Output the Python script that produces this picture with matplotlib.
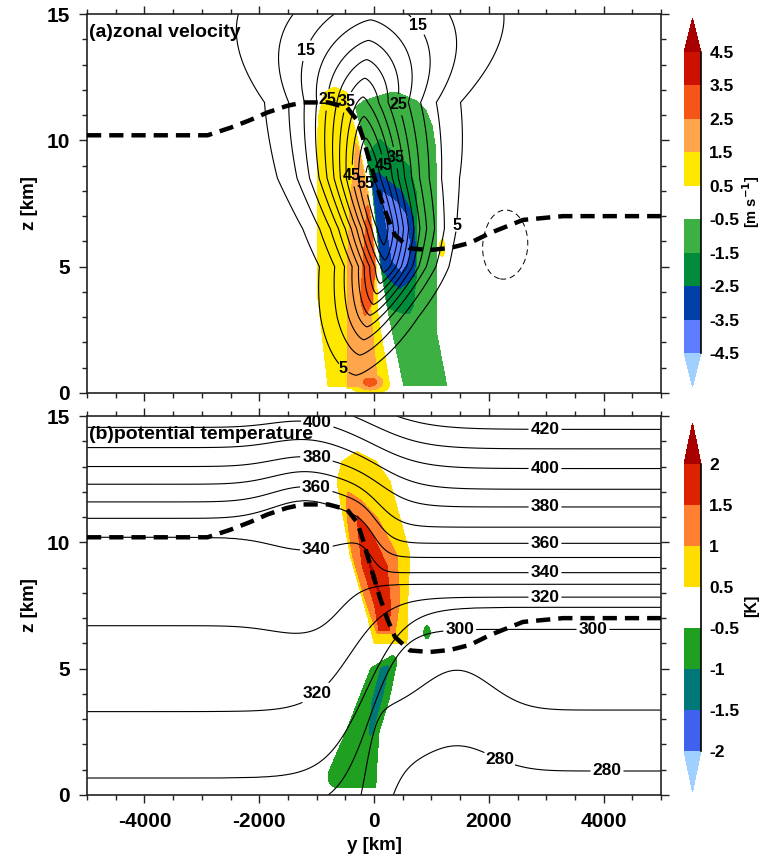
import numpy as np
import matplotlib
matplotlib.use("Agg")
import matplotlib.pyplot as plt
from matplotlib.colors import ListedColormap, BoundaryNorm
from matplotlib.ticker import MultipleLocator, FormatStrFormatter

plt.rcParams["font.family"] = ["Liberation Sans", "DejaVu Sans"]
plt.rcParams["font.weight"] = "bold"
plt.rcParams["axes.labelweight"] = "bold"
plt.rcParams["axes.unicode_minus"] = False

# ---------------- grid ----------------
y_grid = np.linspace(-5000, 5000, 801)
z_grid = np.linspace(0, 15, 601)
Y, Z = np.meshgrid(y_grid, z_grid)

# ---------------- tropopause (dashed) ----------------
trop_y = [-5000, -2900, -2500, -2160, -1860, -1520, -1240, -800, -470, -296, -192, -105,
          105, 226, 366, 627, 975, 1324, 1672, 2021, 2596, 3293, 5000]
trop_z = [10.2, 10.2, 10.5, 10.8, 11.1, 11.36, 11.5, 11.5, 11.3, 10.8, 10.1, 9.4,
          7.8, 7.0, 6.25, 5.72, 5.66, 5.74, 5.94, 6.33, 6.85, 7.0, 7.0]

# ---------------- (a) zonal velocity contours ----------------
u_levels = [5, 10, 15, 20, 25, 30, 35, 40, 45, 50, 55]
u_neg_levels = [-5]
jet_peak = 62.0
jet_offset = 3.0
jet_zmax = 7.0
jet_scale_below = 4.4
jet_scale_above = 7.8
jet_axis_z = [0, 1, 3, 5, 6.5, 8.5, 11.5, 15]
jet_axis_y = [-350, -300, -80, 200, 150, -80, -200, -50]
jet_width_z = [0, 3, 5, 8.5, 11.5, 15]
jet_width = [600, 615, 645, 850, 1000, 1900]
jet_shape = 1.4
u_neg_cell = [-9.0, 2230, 5.95, 600, 1.95]   # amp, y, z, Ly, Hz

u_label_y = [-1115, 680, -767, -453, 418, 331, 140, -383, -70, -557, 1394]
u_label_z = [13.5, 14.4, 11.6, 11.5, 11.4, 9.3, 9.0, 8.6, 8.3, 0.9, 6.65]

# ---------------- (a) shading: u anomaly ----------------
du_levels = [-4.5, -3.5, -2.5, -1.5, -0.5, 0.5, 1.5, 2.5, 3.5, 4.5]
du_colors = ["#5d7dff", "#0040a8", "#008c3a", "#3cb043", "#ffffff",
             "#ffe800", "#ffa64d", "#f55516", "#cc1100"]
du_under, du_over = "#a0d0ff", "#a80000"
# region outlines (z nodes, left edge y, right edge y), threshold, interior value
a_yel = dict(z=[0.25, 3.7, 10.0, 11.0, 11.6, 11.9, 12.12],
             l=[-800, -976, -993, -960, -900, -854, -700],
             r=[1500, 1500, 1500, 1000, -420, -470, -700], thr=0.5, mid=1.0)
a_lor = dict(z=[0.25, 3.0, 5.0, 8.0, 9.0, 9.6, 9.95],
             l=[-470, -470, -470, -400, -340, -330, -320],
             r=[70, -50, -60, -120, -200, -260, -320], thr=1.5, mid=2.0)
a_ord = dict(z=[3.0, 3.6, 5.0, 6.5, 7.5],
             l=[-160, -230, -200, -150, -120],
             r=[-160, -30, 17, 20, -120], thr=2.5, mid=3.0)
a_grn = dict(z=[0.25, 2.5, 8.0, 9.6, 10.6, 11.2, 11.6, 11.95],
             l=[-300, -300, -400, -500, -500, -400, -200, 300],
             r=[1290, 1100, 1100, 1097, 1030, 923, 750, 400], thr=0.5, mid=1.0)
a_dgr = dict(z=[3.1, 3.4, 4.5, 8.0, 9.0, 10.1],
             l=[500, 150, -100, -300, -300, 100],
             r=[640, 700, 750, 750, 627, 100], thr=1.5, mid=2.0)
a_dbl = dict(z=[4.05, 4.6, 5.5, 7.0, 8.0, 8.8],
             l=[450, 200, 0, -100, -100, 52],
             r=[450, 720, 750, 700, 500, 52], thr=2.5, mid=3.0)
a_lbl = dict(z=[4.75, 5.2, 6.0, 7.0, 7.6, 8.0],
             l=[480, 300, 245, 170, 120, 157],
             r=[480, 610, 630, 600, 400, 157], thr=3.5, mid=4.0)
# small cells: y, z, half-width y, half-height z, threshold, interior value
a_pos_cells = [[-70, 0.43, 115, 0.16, 2.5, 3.0]]
a_free_cells = [[1185, 5.74, 45, 0.35, 0.5, 1.0]]
# white gap between positive and negative lobes
a_gap_z = [0.25, 3.0, 5.0, 8.0, 10.0, 11.2, 12.2]
a_gap_y = [390, 160, 70, -70, -235, -375, -450]
a_gap_w = [226, 175, 70, 70, 90, 90, 90]

# ---------------- (b) potential temperature ----------------
th_levels = [270, 280, 290, 300, 310, 320, 330, 340, 350, 360, 370, 380, 390, 400, 410, 420, 430]
th_z_left = [-5.0, -3.0, -1.6, -0.5, 0.67, 3.3, 6.7, 10.2, 10.95, 11.6, 12.3, 13.0, 13.75, 14.55, 15.3, 16.0, 16.8]
th_z_right = [-1.5, 0.95, 3.36, 6.56, 7.43, 7.83, 8.34, 8.8, 9.4, 9.96, 10.6, 11.4, 12.1, 12.92, 13.7, 14.47, 15.3]
th_mid_y = [200, 200, -150, -80, -150, -420, -600, -50, 0, 50, 100, 150, 150, 100, 100, 100, 100]
th_width = [300, 300, 200, 560, 700, 680, 400, 200, 250, 300, 400, 550, 700, 800, 850, 900, 900]
th_ridge = [0, 0, 0, 0, 0, 0, -0.35, -0.5, 0.7, 0.6, 0.5, 0.4, 0.35, 0.3, 0.3, 0.3, 0.3]
th_hump = [0, 1.0, 1.58, 0, 0, 0, 0, 0, 0, 0, 0, 0, 0, 0, 0, 0, 0]
th_ridge_y, th_ridge_w = -1200, 800
th_hump_y, th_hump_w = 1446, 850
th_draw_levels = [280, 290, 300, 310, 320, 330, 340, 350, 360, 370, 380, 390, 400, 410, 420]

th_label_y = [-1000, -1000, -1000, -1000, -1000, 2979, 2979, 2979, 2979, 2979, 2979, 3815, 1500, 2195, 4059]
th_label_z = [14.55, 13.35, 12.2, 9.7, 4.0, 14.25, 12.75, 11.15, 9.85, 8.7, 7.7, 6.52, 6.13, 1.46, 0.87]

# ---------------- (b) shading: theta anomaly ----------------
dth_levels = [-2, -1.5, -1, -0.5, 0.5, 1, 1.5, 2]
dth_colors = ["#4060ee", "#007878", "#20a020", "#ffffff", "#ffdd00", "#ff8030", "#dd2200"]
dth_under, dth_over = "#a0d0ff", "#a80000"
b_yel = dict(z=[6.0, 7.0, 9.5, 12.4, 13.2, 13.6],
             l=[0, -105, -418, -645, -560, -296],
             r=[575, 575, 627, 279, 40, -296], thr=0.5, mid=0.75)
b_org = dict(z=[6.4, 7.7, 9.5, 11.0, 11.7, 12.0],
             l=[52, -150, -380, -470, -480, -453],
             r=[366, 453, 400, 52, -250, -453], thr=1.0, mid=1.25)
b_red = dict(z=[6.5, 7.5, 9.1, 10.3, 11.1],
             l=[85, 10, -210, -270, -296],
             r=[265, 290, 226, -30, -296], thr=1.5, mid=1.75)
b_dred = dict(z=[7.9, 8.6, 9.4],
              l=[105, -40, -105],
              r=[105, 40, -105], thr=2.0, mid=2.25)
b_grn = dict(z=[0.25, 0.45, 0.9, 2.45, 3.75, 5.06, 5.4, 5.6],
             l=[-700, -800, -815, -520, -296, -70, 180, 340],
             r=[40, 52, 60, 105, 280, 400, 418, 340], thr=0.5, mid=0.75)
b_teal = dict(z=[2.25, 2.43, 3.75, 5.06, 5.2],
              l=[-70, -105, -50, 105, 250],
              r=[-70, -17, 150, 279, 250], thr=1.0, mid=1.25)
b_neg_cells = [[69, 3.95, 18, 0.1, 1.5, 1.75], [923, 6.44, 75, 0.3, 0.5, 0.75]]


def sig(x):
    return 0.5 * (1 + np.tanh(x))


def region(Yg, Zg, spec, soft=12.0, zsoft=0.04):
    zn = spec["z"]
    L = np.interp(Zg, zn, spec["l"])
    R = np.interp(Zg, zn, spec["r"])
    ind = sig((Yg - L) / soft) * sig((R - Yg) / soft) * sig((Zg - zn[0]) / zsoft) * sig((zn[-1] - Zg) / zsoft)
    p = np.log(spec["thr"] / spec["mid"]) / np.log(0.5)
    return spec["mid"] * ind ** p


def cell(Yg, Zg, yc, zc, ry, rz, thr, mid):
    ind = np.exp(-np.log(2) * (((Yg - yc) / ry) ** 2 + ((Zg - zc) / rz) ** 2))
    p = np.log(thr / mid) / np.log(0.5)
    return mid * ind ** p


# ----- u field -----
below = jet_peak * np.exp(-((jet_zmax - Z) / jet_scale_below) ** 2) - jet_offset
above = jet_peak * np.exp(-((Z - jet_zmax) / jet_scale_above) ** 2) - jet_offset
cz = np.clip(np.where(Z < jet_zmax, below, above), 0, None)
yax = np.interp(Z, jet_axis_z, jet_axis_y)
wid = np.interp(Z, jet_width_z, jet_width)
U = cz * np.exp(-(np.abs(Y - yax) / wid) ** jet_shape)
a_, yc_, zc_, ly_, hz_ = u_neg_cell
U = U + a_ * np.exp(-((Y - yc_) / ly_) ** 2 - ((Z - zc_) / hz_) ** 2)

# ----- u anomaly field -----
P = np.maximum.reduce([region(Y, Z, a_yel), region(Y, Z, a_lor), region(Y, Z, a_ord)]
                      + [cell(Y, Z, *c) for c in a_pos_cells])
N = np.maximum.reduce([region(Y, Z, a_grn), region(Y, Z, a_dgr), region(Y, Z, a_dbl), region(Y, Z, a_lbl)])
gy = np.interp(Z, a_gap_z, a_gap_y)
gw = np.interp(Z, a_gap_z, a_gap_w)
DU = P * sig((gy - gw / 2 - Y) / 10.0) - N * sig((Y - gy - gw / 2) / 10.0)
for c in a_free_cells:
    DU = DU + cell(Y, Z, *c)

# ----- theta field -----
yv = y_grid
H = []
for k in range(len(th_levels)):
    h = th_z_left[k] + (th_z_right[k] - th_z_left[k]) * 0.5 * (1 + np.tanh((yv - th_mid_y[k]) / th_width[k]))
    h = h + th_ridge[k] * np.exp(-((yv - th_ridge_y) / th_ridge_w) ** 2)
    h = h + th_hump[k] * np.exp(-((yv - th_hump_y) / th_hump_w) ** 2)
    H.append(h)
H = np.array(H)
for k in range(1, len(th_levels)):
    H[k] = np.maximum(H[k], H[k - 1] + 0.02)
TH = np.empty_like(Y)
for j in range(len(yv)):
    TH[:, j] = np.interp(z_grid, H[:, j], th_levels)

# ----- theta anomaly field -----
PB = np.maximum.reduce([region(Y, Z, b_yel), region(Y, Z, b_org), region(Y, Z, b_red), region(Y, Z, b_dred)])
NB = np.maximum.reduce([region(Y, Z, b_grn), region(Y, Z, b_teal)] + [cell(Y, Z, *c) for c in b_neg_cells])
DTH = PB - NB

# ---------------- figure ----------------
W, Hpx = 763, 857
fig = plt.figure(figsize=(W / 100, Hpx / 100), dpi=100)


def fx(px):
    return px / W


def fy(py):
    return 1 - py / Hpx


ax_a = fig.add_axes([fx(87), fy(393), fx(661) - fx(87), fy(14) - fy(393)])
ax_b = fig.add_axes([fx(87), fy(795), fx(661) - fx(87), fy(416) - fy(795)])

spine_col = "#222222"


def style_axes(ax, show_xlabels):
    ax.set_xlim(-5000, 5000)
    ax.set_ylim(0, 15)
    ax.xaxis.set_major_locator(MultipleLocator(2000))
    ax.xaxis.set_minor_locator(MultipleLocator(500))
    ax.yaxis.set_major_locator(MultipleLocator(5))
    ax.yaxis.set_minor_locator(MultipleLocator(1))
    ax.tick_params(which="both", direction="out", top=True, right=True, color=spine_col, width=1.0)
    ax.tick_params(which="major", length=5.5, labelsize=15, pad=7)
    ax.tick_params(which="minor", length=3.5)
    if not show_xlabels:
        ax.tick_params(labelbottom=False)
    for s in ax.spines.values():
        s.set_linewidth(1.2)
        s.set_color(spine_col)
    ax.set_ylabel("z [km]", fontsize=13.5, fontweight="bold")
    ax.yaxis.set_label_coords(-0.085, 0.5)


def make_cmap(colors, under, over, levels):
    cmap = ListedColormap(colors)
    cmap.set_under(under)
    cmap.set_over(over)
    return cmap, BoundaryNorm(levels, cmap.N)


# ---- panel a ----
cmap_a, norm_a = make_cmap(du_colors, du_under, du_over, du_levels)
cf_a = ax_a.contourf(Y, Z, DU, levels=du_levels, cmap=cmap_a, norm=norm_a, extend="both")
cs_a = ax_a.contour(Y, Z, U, levels=u_levels, colors="k", linewidths=0.8)
cs_an = ax_a.contour(Y, Z, U, levels=u_neg_levels, colors="k", linewidths=0.7, linestyles=[(0, (6, 4))])
la = ax_a.clabel(cs_a, fmt="%d", fontsize=11.5, inline=True, inline_spacing=2,
                 manual=list(zip(u_label_y, u_label_z)))
for t in la:
    t.set_rotation(0)
ax_a.plot(trop_y, trop_z, color="k", lw=3.2, linestyle=(0, (3.2, 1.8)), zorder=10)
style_axes(ax_a, False)
ax_a.text(0.003, 0.95, "(a)zonal velocity", transform=ax_a.transAxes, fontsize=14,
          fontweight="bold", va="center", ha="left", zorder=12)

# ---- panel b ----
cmap_b, norm_b = make_cmap(dth_colors, dth_under, dth_over, dth_levels)
cf_b = ax_b.contourf(Y, Z, DTH, levels=dth_levels, cmap=cmap_b, norm=norm_b, extend="both")
cs_b = ax_b.contour(Y, Z, TH, levels=th_draw_levels, colors="k", linewidths=0.8)
lb = ax_b.clabel(cs_b, fmt="%d", fontsize=12.5, inline=True, inline_spacing=2,
                 manual=list(zip(th_label_y, th_label_z)))
for t in lb:
    t.set_rotation(0)
ax_b.plot(trop_y, trop_z, color="k", lw=3.2, linestyle=(0, (3.2, 1.8)), zorder=10)
style_axes(ax_b, True)
ax_b.set_xlabel("y [km]", fontsize=13.5, fontweight="bold")
ax_b.xaxis.set_label_coords(0.5, -0.112)
ax_b.text(0.003, 0.95, "(b)potential temperature", transform=ax_b.transAxes, fontsize=14,
          fontweight="bold", va="center", ha="left", zorder=12)

# ---- colorbars ----
cax_a = fig.add_axes([fx(684), fy(387), fx(701) - fx(684), fy(18) - fy(387)])
cb_a = fig.colorbar(cf_a, cax=cax_a, extend="both", extendfrac=0.113, ticks=du_levels)
cax_b = fig.add_axes([fx(684), fy(792), fx(701) - fx(684), fy(423) - fy(792)])
cb_b = fig.colorbar(cf_b, cax=cax_b, extend="both", extendfrac=0.143, ticks=dth_levels)
for cb in (cb_a, cb_b):
    cb.outline.set_visible(False)
    cb.ax.tick_params(length=0, labelsize=12.5, pad=6)
    cb.ax.yaxis.set_major_formatter(FormatStrFormatter("%g"))
    cb.ax.plot([1, 1], [0, 1], transform=cb.ax.transAxes, color="k", lw=1.2, clip_on=False)

fig.text(fx(751), fy(202), "[m s$^{\\mathbf{-1}}$]", rotation=90, ha="center", va="center",
         fontsize=10.5, fontweight="bold")
fig.text(fx(752), fy(606), "[K]", rotation=90, ha="center", va="center",
         fontsize=11.5, fontweight="bold")

fig.savefig("out.png", dpi=100)
